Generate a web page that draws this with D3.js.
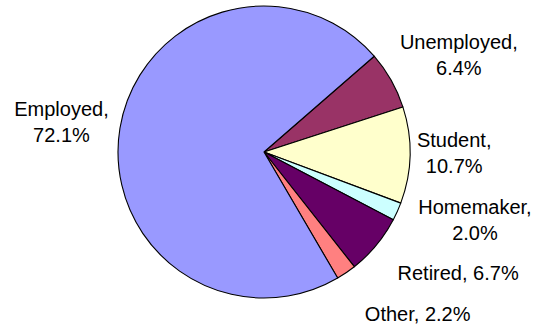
<!DOCTYPE html>
<html>
<head>
<meta charset="utf-8">
<script src="https://cdn.jsdelivr.net/npm/d3@7"></script>
<style>
  html, body { margin: 0; padding: 0; background: #fff; }
  svg { display: block; }
  text { font-family: "Liberation Sans", Arial, sans-serif; font-size: 20px; fill: #000; }
</style>
</head>
<body>
<svg id="chart" width="537" height="329"></svg>
<script>
// Employment status shares (percent)
const categories = ["Unemployed", "Student", "Homemaker", "Retired", "Other", "Employed"];
const values = [6.4, 10.7, 2.0, 6.7, 2.2, 72.1];
const valueLabels = ["6.4%", "10.7%", "2.0%", "6.7%", "2.2%", "72.1%"];
const colors = ["#993366", "#FFFFCC", "#CCFFFF", "#660066", "#FF8080", "#9999FF"];

// Layout
const W = 537, H = 329;
const cx = 264, cy = 152, radius = 146;
const startDeg = 49;
const labelGap = 12;
const lineHeight = 26;
// labels that share a line with their value
const singleLine = new Set(["Retired", "Other"]);
// nudges applied after the outside-label placement to keep labels apart
const labelNudge = {
  Unemployed: [6, -6], Student: [-5, -3], Homemaker: [15, -7],
  Retired: [26, 12], Other: [35, 21], Employed: [0, 0]
};

const svg = d3.select("#chart");
const g = svg.append("g").attr("transform", `translate(${cx},${cy})`);

const data = categories.map((c, i) => ({ name: c, value: values[i], label: valueLabels[i], color: colors[i] }));

const pie = d3.pie()
  .sort(null)
  .value(d => d.value)
  .startAngle(startDeg * Math.PI / 180)
  .endAngle(startDeg * Math.PI / 180 + 2 * Math.PI);

const arc = d3.arc().innerRadius(0).outerRadius(radius);
const labelArc = d3.arc().innerRadius(radius + labelGap).outerRadius(radius + labelGap);

const arcs = pie(data);

g.selectAll("path.slice")
  .data(arcs)
  .join("path")
  .attr("class", "slice")
  .attr("d", arc)
  .attr("fill", d => d.data.color)
  .attr("stroke", "#000")
  .attr("stroke-width", 1.1)
  .attr("stroke-linejoin", "round");

// Data labels outside the pie
arcs.forEach(d => {
  const name = d.data.name;
  const lines = singleLine.has(name)
    ? [`${name}, ${d.data.label}`]
    : [`${name},`, d.data.label];
  const t = g.append("text").attr("text-anchor", "middle");
  lines.forEach((ln, i) => {
    t.append("tspan").attr("x", 0).attr("dy", i === 0 ? 0 : lineHeight).text(ln);
  });
  const tspans = t.selectAll("tspan").nodes();
  const w = d3.max(tspans, n => n.getComputedTextLength());
  const h = lines.length * lineHeight;
  const a = (d.startAngle + d.endAngle) / 2;
  const [ax, ay] = labelArc.centroid(d);
  const nudge = labelNudge[name] || [0, 0];
  const bx = ax + (w / 2) * Math.sin(a) + nudge[0];
  const by = ay - (h / 2) * Math.cos(a) + nudge[1];
  // first baseline: line center plus half the cap height
  const firstBase = by - h / 2 + lineHeight / 2 + 7;
  t.attr("transform", `translate(${bx},${firstBase})`);
});
</script>
</body>
</html>
